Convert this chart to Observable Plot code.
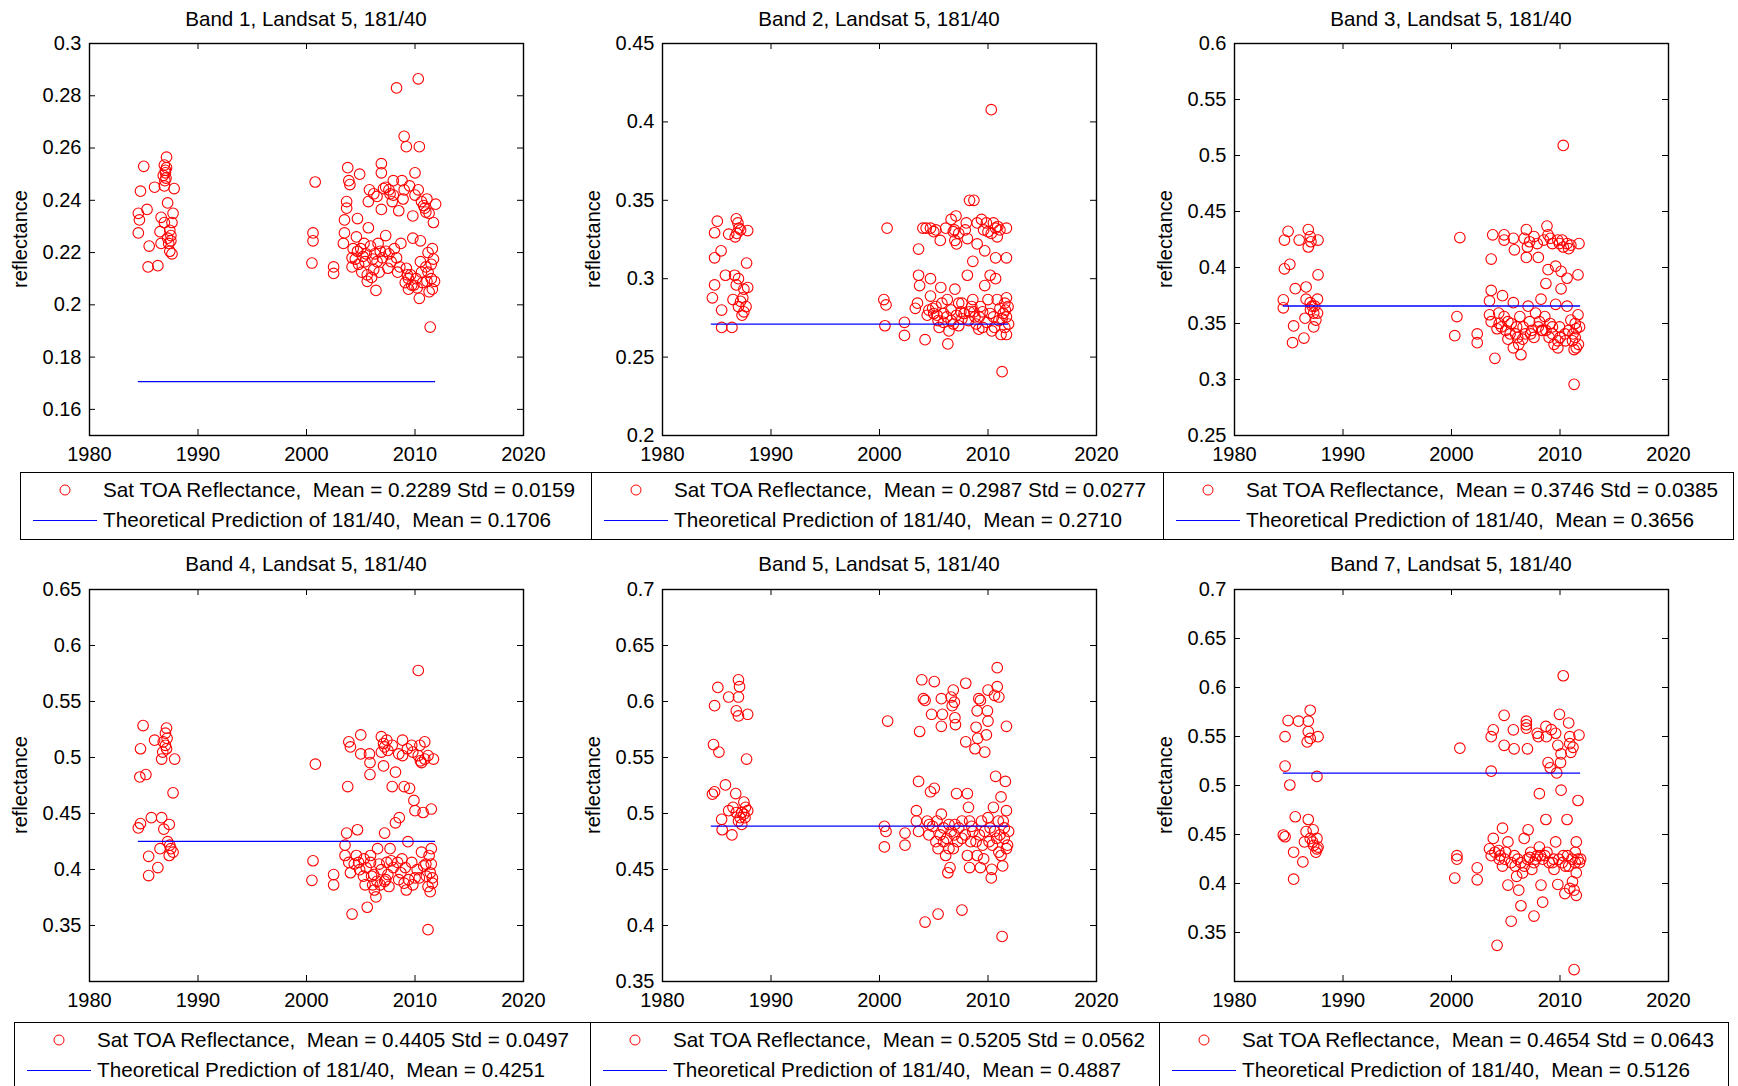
<!DOCTYPE html>
<html><head><meta charset="utf-8">
<script src="https://cdn.jsdelivr.net/npm/d3@7"></script>
<script src="https://cdn.jsdelivr.net/npm/@observablehq/plot@0.6"></script>
<style>
html,body{margin:0;padding:0;background:#fff;}
#root{position:relative;width:1738px;height:1086px;overflow:hidden;font-family:"Liberation Sans",Arial,sans-serif;color:#000;background:#fff;}
.title{position:absolute;font-size:20.6px;line-height:1;transform:translate(-50%,-50%);white-space:nowrap;}
.ylab{position:absolute;font-size:20px;line-height:1;transform:translate(-50%,-50%) rotate(-90deg);white-space:nowrap;}
.legend{position:absolute;border:1.5px solid #000;box-sizing:border-box;background:#fff;}
.legrow{position:absolute;left:82px;font-size:20.7px;line-height:1;white-space:pre;transform:translateY(-50%);}
.legmark{position:absolute;width:11px;height:11px;border:1.2px solid #ff0000;border-radius:50%;box-sizing:border-box;transform:translate(-50%,-50%);}
.legline{position:absolute;height:0;border-top:1.5px solid #0000ff;}
</style></head>
<body><div id="root"></div>
<script>
// ---------------- data ----------------
const titles = ["Band 1, Landsat 5, 181/40","Band 2, Landsat 5, 181/40","Band 3, Landsat 5, 181/40",
                "Band 4, Landsat 5, 181/40","Band 5, Landsat 5, 181/40","Band 7, Landsat 5, 181/40"];
const xTickLabels = [1980,1990,2000,2010,2020];
const yDomains = [[0.15,0.3],[0.2,0.45],[0.25,0.6],[0.3,0.65],[0.35,0.7],[0.3,0.7]];
const yTickLabels = [
  [0.16,0.18,0.2,0.22,0.24,0.26,0.28,0.3],
  [0.2,0.25,0.3,0.35,0.4,0.45],
  [0.25,0.3,0.35,0.4,0.45,0.5,0.55,0.6],
  [0.35,0.4,0.45,0.5,0.55,0.6,0.65],
  [0.35,0.4,0.45,0.5,0.55,0.6,0.65,0.7],
  [0.35,0.4,0.45,0.5,0.55,0.6,0.65,0.7]
];
const satMeans = ["0.2289","0.2987","0.3746","0.4405","0.5205","0.4654"];
const satStds  = ["0.0159","0.0277","0.0385","0.0497","0.0562","0.0643"];
const theoryMeans = [0.1706,0.2710,0.3656,0.4251,0.4887,0.5126];
const theorySpan = [1984.5, 2011.9];

const band1 = [
[1985.0,0.253],[1984.7,0.2435],[1984.5,0.235],[1984.6,0.2325],[1984.5,0.2275],[1985.3,0.2365],[1985.5,0.2225],[1985.4,0.2145],[1986.3,0.215],[1986.0,0.245],[1987.1,0.2565],[1986.9,0.2535],[1987.0,0.2515],[1986.8,0.2495],[1987.05,0.2485],[1986.95,0.2475],[1987.2,0.239],[1986.6,0.2335],[1986.6,0.2235],[1986.5,0.228],[1987.8,0.2445],[1987.7,0.235],[1987.6,0.2315],[1987.4,0.2285],[1987.5,0.2245],[1987.4,0.2205],[1987.3,0.2235],[1987.2,0.2255],[1986.9,0.2315],
[2000.8,0.247],[2000.6,0.2275],[2000.6,0.2245],[2000.5,0.216],[2002.5,0.2145],[2002.5,0.212],[2003.8,0.2525],[2003.9,0.2475],[2004.0,0.246],[2003.7,0.2395],[2003.7,0.237],[2003.5,0.2325],[2003.5,0.2275],[2003.4,0.2235],[2004.2,0.218],[2004.2,0.2145],[2004.7,0.233],[2004.9,0.25],[2004.6,0.226],[2004.7,0.2205],[2005.4,0.2165],[2005.6,0.2115],[2005.6,0.209],[2005.8,0.244],[2005.7,0.2395],[2005.7,0.2295],[2005.9,0.2225],[2006.1,0.2175],[2006.2,0.2135],[2006.4,0.2055],[2006.6,0.2235],[2006.9,0.254],[2006.9,0.2505],[2007.1,0.2445],[2006.9,0.2365],[2007.3,0.2265],[2007.3,0.2205],[2007.5,0.214],[2007.6,0.244],[2008.0,0.2475],[2008.0,0.242],[2008.3,0.283],[2008.5,0.236],[2008.3,0.218],[2008.7,0.2235],[2008.8,0.2475],[2009.0,0.2645],[2009.2,0.2605],[2009.0,0.244],[2009.2,0.214],[2009.4,0.21],[2009.4,0.206],[2009.8,0.234],[2010.0,0.2505],[2009.8,0.2255],[2010.3,0.2865],[2010.4,0.2605],[2010.3,0.244],[2010.5,0.2245],[2010.5,0.2165],[2010.4,0.2025],[2010.1,0.21],[2010.8,0.238],[2011.0,0.2355],[2011.1,0.2405],[2011.2,0.22],[2011.2,0.2125],[2011.4,0.1915],[2011.6,0.206],[2011.7,0.2315],[2011.9,0.2385],[2011.5,0.21],[2011.7,0.2175],
[2005.0,0.2215],[2005.2,0.2185],[2005.3,0.2235],[2006.0,0.2105],[2006.3,0.2195],[2006.7,0.2125],[2007.0,0.218],[2007.8,0.2165],[2008.1,0.2215],[2008.6,0.2145],[2009.1,0.2085],[2009.6,0.2115],[2009.9,0.2075],[2010.7,0.2085],[2011.0,0.2145],[2011.3,0.205],[2011.6,0.2215],[2007.3,0.245],[2007.9,0.2395],[2009.5,0.2455],[2010.0,0.242],[2010.9,0.237],[2011.3,0.235],[2006.2,0.2425],[2006.5,0.2415],[2004.3,0.2215],[2004.5,0.2175],
[1987.0,0.2505],[1986.9,0.2455],[1987.1,0.2525],[1987.5,0.2265],[1987.6,0.2195],[2004.8,0.2155],[2005.1,0.2125],[2005.5,0.2195],[2006.5,0.2165],[2006.8,0.2205],[2007.6,0.2195],[2008.4,0.2125],[2009.3,0.2115],[2009.7,0.2075],[2010.2,0.2065],[2010.6,0.2125],[2011.1,0.209],[2011.5,0.2155],[2011.8,0.209],[2007.7,0.2425],[2008.9,0.2405],[2010.6,0.2395]
];
const band2 = [
[1985.05,0.3367],[1984.8,0.3293],[1985.4,0.3178],[1984.8,0.3133],[1984.8,0.296],[1984.6,0.2878],[1985.45,0.28],[1985.45,0.2689],[1986.4,0.2689],[1985.8,0.3022],[1986.1,0.3284],[1986.8,0.3382],[1986.95,0.3356],[1987.05,0.3322],[1986.85,0.3289],[1987.2,0.3311],[1986.7,0.3267],[1987.85,0.3307],[1987.75,0.31],[1986.65,0.3022],[1987.0,0.30],[1987.5,0.2933],[1986.5,0.2867],[1987.2,0.2856],[1987.7,0.2822],[1987.33,0.2767],[1987.5,0.2789],[1987.85,0.2944],[1986.8,0.296],
[2000.7,0.3322],[2000.4,0.2867],[2000.6,0.2833],[2000.5,0.27],[2002.3,0.2722],[2002.3,0.2638],[2003.6,0.3189],[2003.6,0.3022],[2003.7,0.2956],[2003.5,0.2844],[2003.3,0.2811],[2004.0,0.3322],[2004.2,0.2611],[2004.7,0.3322],[2004.7,0.30],[2004.7,0.2889],[2004.55,0.28],[2004.4,0.2767],[2005.2,0.3311],[2005.6,0.3244],[2005.2,0.2822],[2005.4,0.2733],[2005.5,0.2689],[2005.65,0.2944],[2005.75,0.2844],[2006.1,0.3322],[2005.9,0.2778],[2006.25,0.2867],[2006.3,0.2584],[2006.4,0.2667],[2006.6,0.3378],[2006.8,0.33],[2006.95,0.3244],[2007.05,0.34],[2007.1,0.3222],[2006.6,0.28],[2006.95,0.2933],[2007.3,0.2844],[2007.1,0.2767],[2007.3,0.27],[2007.6,0.2844],[2007.8,0.2778],[2008.0,0.3356],[2008.1,0.3256],[2008.1,0.3022],[2008.3,0.35],[2008.7,0.35],[2008.6,0.3111],[2009.0,0.3222],[2008.5,0.2822],[2008.6,0.2867],[2008.8,0.2756],[2009.0,0.3356],[2009.15,0.2678],[2009.3,0.2822],[2009.5,0.2789],[2009.7,0.3178],[2009.7,0.2956],[2009.85,0.3356],[2010.3,0.4078],[2010.0,0.33],[2010.2,0.3022],[2010.0,0.2867],[2010.2,0.2778],[2010.35,0.2667],[2010.5,0.3356],[2010.7,0.3322],[2010.85,0.3267],[2010.7,0.30],[2010.7,0.3133],[2010.85,0.2867],[2011.0,0.2733],[2011.2,0.2644],[2011.3,0.2407],[2011.4,0.2778],[2011.55,0.2844],[2011.7,0.3322],[2011.7,0.3133],[2011.7,0.2878],[2011.85,0.2822],[2011.7,0.2756],[2011.55,0.2689],[2011.7,0.2644],
[2005.0,0.2778],[2005.9,0.2722],[2006.6,0.2733],[2007.6,0.2744],[2008.3,0.2789],[2008.9,0.2711],[2009.5,0.2689],[2010.5,0.2756],[2011.1,0.2811],[2011.9,0.2711],[2006.9,0.3311],[2007.3,0.3289],[2009.4,0.3378],[2010.3,0.3289],[2011.1,0.3311],[2004.3,0.3322],[2005.0,0.3300],
[2004.9,0.2811],[2005.3,0.2767],[2006.2,0.2756],[2006.8,0.2711],[2007.5,0.2789],[2008.2,0.2733],[2008.7,0.2789],[2009.2,0.2756],[2009.9,0.2722],[2010.6,0.2689],[2011.3,0.2744],[2011.6,0.2800],[2007.9,0.3311],[2009.6,0.3311],[2010.9,0.3333],[1987.0,0.2822],[1987.4,0.2878]
];
const band3 = [
[1984.94,0.4323],[1984.6,0.4245],[1985.96,0.4245],[1984.6,0.3988],[1985.1,0.4028],[1984.5,0.3711],[1984.5,0.364],[1985.6,0.3811],[1985.45,0.3478],[1985.35,0.3329],[1986.4,0.337],[1986.6,0.3826],[1986.8,0.4339],[1986.98,0.4276],[1986.8,0.4183],[1987.05,0.423],[1986.5,0.3547],[1986.6,0.3717],[1986.98,0.3686],[1987.15,0.3655],[1987.3,0.3593],[1987.5,0.3531],[1987.3,0.3469],[1987.65,0.3717],[1987.7,0.4245],[1987.7,0.3935],[1987.65,0.3593],
[2000.77,0.4267],[2000.5,0.3562],[2000.3,0.3391],[2002.37,0.3407],[2002.37,0.3329],[2003.8,0.4292],[2003.66,0.4075],[2003.66,0.3795],[2003.5,0.3702],[2003.5,0.3578],[2003.66,0.3516],[2004.0,0.3189],[2004.2,0.3453],[2004.35,0.3593],[2004.85,0.4292],[2004.85,0.4245],[2004.7,0.3748],[2004.85,0.3562],[2005.0,0.3438],[2005.2,0.336],[2005.7,0.4261],[2005.8,0.4158],[2005.7,0.3686],[2005.5,0.35],[2005.9,0.3407],[2005.7,0.3283],[2006.2,0.3314],[2006.4,0.3221],[2006.55,0.336],[2006.7,0.4261],[2006.9,0.4339],[2007.0,0.4183],[2006.9,0.409],[2007.06,0.3655],[2007.2,0.3516],[2007.4,0.3438],[2007.6,0.4276],[2007.9,0.4214],[2008.0,0.409],[2007.75,0.3593],[2008.1,0.3516],[2008.25,0.3717],[2008.4,0.3438],[2008.6,0.3562],[2008.7,0.3857],[2008.8,0.437],[2008.9,0.4292],[2009.1,0.4261],[2008.9,0.3981],[2009.1,0.35],[2009.3,0.3407],[2009.45,0.3314],[2009.6,0.3671],[2009.6,0.4012],[2009.8,0.4245],[2009.8,0.3283],[2009.95,0.4214],[2009.95,0.3469],[2010.1,0.381],[2010.1,0.3966],[2010.3,0.509],[2010.3,0.4183],[2010.45,0.3407],[2010.65,0.3655],[2010.65,0.3904],[2010.65,0.4214],[2010.8,0.4168],[2011.0,0.3531],[2011.15,0.3345],[2011.3,0.3267],[2011.3,0.2957],[2011.5,0.3453],[2011.66,0.3935],[2011.75,0.4214],[2011.66,0.3578],[2011.5,0.3283],[2011.4,0.3376],
[2005.2,0.3516],[2006.0,0.3469],[2006.8,0.3407],[2007.6,0.3376],[2008.3,0.3438],[2009.0,0.3376],[2009.8,0.3345],[2010.5,0.3345],[2011.2,0.3407],[2011.8,0.3469],[2007.2,0.4230],[2010.2,0.4245],[2011.0,0.4199],[2004.4,0.3500],[2006.3,0.3562],
[2004.6,0.3469],[2005.4,0.3407],[2006.1,0.3376],[2006.6,0.3469],[2007.3,0.3407],[2008.0,0.3469],[2008.7,0.3438],[2009.3,0.3469],[2010.0,0.3376],[2010.8,0.3438],[2011.4,0.3500],[2011.7,0.3314],[2008.5,0.4245],[2009.3,0.4214],[1987.0,0.3624],[1987.4,0.3655]
];
const band4 = [
[1984.94,0.5285],[1984.7,0.5078],[1984.64,0.4826],[1985.2,0.4848],[1984.5,0.4371],[1984.7,0.441],[1985.7,0.4463],[1985.45,0.4118],[1985.45,0.3946],[1986.3,0.4017],[1986.0,0.5155],[1986.65,0.4463],[1987.1,0.5263],[1987.0,0.5217],[1986.8,0.514],[1987.0,0.5109],[1986.75,0.5048],[1986.65,0.4986],[1987.15,0.5171],[1987.85,0.4986],[1987.7,0.4685],[1987.35,0.4402],[1986.85,0.436],[1987.2,0.4248],[1986.5,0.4186],[1987.5,0.4186],[1987.35,0.4125],[1987.7,0.4155],
[2000.82,0.494],[2000.6,0.4078],[2000.5,0.3903],[2002.5,0.3955],[2002.5,0.3863],[2003.9,0.514],[2004.05,0.5094],[2003.8,0.474],[2003.7,0.4325],[2003.55,0.4217],[2003.55,0.4125],[2003.9,0.4063],[2004.2,0.3602],[2004.05,0.3971],[2004.7,0.4355],[2005.0,0.5202],[2005.0,0.5032],[2004.6,0.4125],[2004.9,0.3998],[2005.25,0.394],[2005.4,0.3863],[2005.6,0.3663],[2005.8,0.5032],[2005.85,0.4955],[2005.85,0.4848],[2005.9,0.4125],[2005.9,0.4063],[2006.1,0.3863],[2006.25,0.3817],[2006.4,0.3755],[2006.55,0.4186],[2006.9,0.5186],[2007.1,0.5125],[2006.9,0.5048],[2007.2,0.5094],[2007.1,0.4925],[2007.2,0.4325],[2006.9,0.3998],[2007.2,0.3894],[2007.4,0.4063],[2007.6,0.3848],[2007.7,0.4186],[2007.9,0.5109],[2007.9,0.474],[2008.2,0.4869],[2008.2,0.4417],[2008.4,0.4063],[2008.55,0.4463],[2008.7,0.3971],[2008.85,0.5155],[2008.85,0.5017],[2009.0,0.474],[2009.0,0.3878],[2009.2,0.3817],[2009.35,0.4248],[2009.5,0.4725],[2009.7,0.5109],[2009.8,0.5048],[2009.7,0.4063],[2009.9,0.4617],[2010.0,0.4525],[2010.2,0.3998],[2010.3,0.5777],[2010.3,0.5017],[2010.45,0.5109],[2010.6,0.4955],[2010.6,0.4155],[2010.75,0.4509],[2010.9,0.514],[2010.9,0.4986],[2011.05,0.394],[2011.2,0.3463],[2011.2,0.3848],[2011.4,0.3802],[2011.5,0.4186],[2011.5,0.454],[2011.7,0.4986],[2011.5,0.4048],[2011.4,0.3971],
[2005.3,0.4094],[2006.0,0.3940],[2006.5,0.3894],[2006.8,0.3863],[2007.5,0.3955],[2008.0,0.4017],[2008.8,0.4094],[2009.4,0.3909],[2010.0,0.3925],[2010.8,0.4032],[2011.3,0.4125],[2011.6,0.3878],[2007.5,0.5063],[2009.3,0.5078],[2010.5,0.4970],[2004.4,0.4048],
[2004.8,0.4063],[2005.5,0.4017],[2006.2,0.3955],[2006.7,0.4048],[2007.3,0.3909],[2007.8,0.4078],[2008.5,0.3909],[2009.1,0.4017],[2009.8,0.3863],[2010.4,0.3925],[2011.0,0.4048],[2011.6,0.3925],[2007.4,0.5155],[2008.5,0.5032],[2011.2,0.5017],[1987.1,0.5078],[1987.4,0.4217]
];
const band5 = [
[1985.1,0.6126],[1984.8,0.5963],[1986.1,0.604],[1984.7,0.5615],[1985.2,0.5548],[1984.6,0.5172],[1984.8,0.5194],[1985.8,0.5255],[1985.45,0.4948],[1985.5,0.4855],[1986.4,0.4809],[1986.75,0.5178],[1987.0,0.6194],[1987.1,0.6132],[1987.0,0.604],[1986.8,0.5917],[1987.0,0.5871],[1987.85,0.5886],[1987.75,0.5486],[1986.5,0.5055],[1986.8,0.5009],[1987.15,0.4963],[1987.5,0.5102],[1987.65,0.5055],[1987.3,0.4902],[1987.5,0.4994],[1987.85,0.5025],[1987.0,0.4932],[1986.1,0.5025],
[2000.75,0.5825],[2000.45,0.4886],[2000.6,0.484],[2000.45,0.4702],[2002.35,0.4825],[2002.35,0.4717],[2003.7,0.5732],[2003.9,0.6194],[2004.05,0.6025],[2004.2,0.601],[2003.6,0.5286],[2003.4,0.5025],[2003.4,0.4932],[2003.6,0.484],[2004.2,0.4031],[2004.7,0.5194],[2004.4,0.4932],[2004.55,0.4809],[2005.05,0.6178],[2004.8,0.5886],[2005.05,0.5225],[2005.2,0.4748],[2005.4,0.4686],[2005.4,0.4102],[2005.7,0.5778],[2005.8,0.5886],[2005.7,0.6025],[2005.7,0.4994],[2005.9,0.4871],[2006.1,0.4625],[2006.3,0.4471],[2006.5,0.4517],[2006.6,0.604],[2006.8,0.6102],[2006.9,0.5994],[2006.95,0.5855],[2007.0,0.5794],[2007.1,0.5178],[2006.95,0.4902],[2007.2,0.4748],[2006.8,0.4686],[2007.6,0.4138],[2007.6,0.4932],[2007.95,0.6163],[2007.95,0.564],[2008.1,0.5178],[2008.2,0.5055],[2008.1,0.4625],[2008.3,0.4517],[2008.4,0.4748],[2008.6,0.484],[2008.8,0.5578],[2008.9,0.577],[2009.0,0.5917],[2009.15,0.6025],[2009.05,0.5671],[2009.0,0.4625],[2009.3,0.4517],[2009.5,0.4717],[2009.7,0.5548],[2009.85,0.5702],[2009.95,0.5917],[2010.0,0.6102],[2010.0,0.5825],[2010.0,0.4963],[2010.2,0.4871],[2010.3,0.4425],[2010.35,0.4502],[2010.4,0.4717],[2010.5,0.5055],[2010.6,0.6055],[2010.7,0.5332],[2010.85,0.6302],[2010.85,0.6132],[2011.0,0.604],[2010.95,0.4932],[2011.2,0.5148],[2011.3,0.3902],[2011.2,0.4625],[2011.35,0.4532],[2011.5,0.4778],[2011.6,0.5286],[2011.7,0.5778],[2011.7,0.5025],[2011.7,0.4686],[2011.5,0.4871],
[2004.9,0.4886],[2005.6,0.4809],[2006.2,0.4778],[2006.6,0.4840],[2007.3,0.4871],[2007.9,0.4809],[2008.5,0.4886],[2009.2,0.4809],[2009.7,0.4840],[2010.6,0.4840],[2011.1,0.4809],[2011.9,0.4840],[2006.4,0.4686],[2009.6,0.4594],[2011.0,0.4655],
[2004.6,0.4902],[2005.3,0.4932],[2005.9,0.4748],[2006.4,0.4902],[2006.9,0.4809],[2007.6,0.4778],[2008.3,0.4932],[2008.9,0.4748],[2009.4,0.4932],[2010.1,0.4748],[2010.8,0.4778],[2011.4,0.4932],[2011.8,0.4717],[2009.3,0.6010],[2006.7,0.5963],[1987.3,0.5009],[1987.6,0.4963]
];
const band7 = [
[1984.94,0.5663],[1984.66,0.5498],[1985.9,0.5656],[1984.66,0.5198],[1985.1,0.5005],[1984.5,0.4495],[1984.66,0.4477],[1985.6,0.4681],[1985.45,0.4319],[1985.45,0.4044],[1986.3,0.422],[1986.8,0.4653],[1986.98,0.5768],[1986.8,0.5656],[1986.8,0.555],[1986.98,0.548],[1986.7,0.5445],[1987.7,0.5498],[1987.6,0.5093],[1987.25,0.4548],[1986.6,0.453],[1987.3,0.4389],[1987.7,0.4372],[1987.5,0.4319],[1986.45,0.4424],[1986.98,0.446],[1987.6,0.446],
[2000.77,0.5381],[2000.5,0.4284],[2000.5,0.4248],[2000.3,0.4055],[2002.37,0.416],[2002.37,0.4037],[2003.66,0.5498],[2003.85,0.5568],[2003.66,0.5146],[2003.5,0.4354],[2003.66,0.4284],[2003.85,0.446],[2004.2,0.3369],[2004.35,0.4336],[2004.5,0.4284],[2004.85,0.5716],[2004.85,0.541],[2004.7,0.4565],[2004.7,0.4178],[2005.2,0.3984],[2005.2,0.4424],[2005.5,0.3615],[2005.7,0.5568],[2005.77,0.5374],[2005.87,0.4178],[2006.0,0.4073],[2006.2,0.3932],[2006.4,0.3773],[2006.55,0.4108],[2006.7,0.446],[2006.9,0.5656],[2006.9,0.5585],[2007.0,0.5374],[2007.06,0.4548],[2007.2,0.4266],[2007.4,0.4143],[2007.6,0.3668],[2007.75,0.4248],[2007.9,0.5533],[2008.1,0.4917],[2008.1,0.4372],[2008.25,0.3984],[2008.4,0.3809],[2008.6,0.4284],[2008.7,0.5603],[2008.75,0.5498],[2008.7,0.4653],[2008.9,0.5234],[2009.1,0.5181],[2009.3,0.4213],[2009.45,0.4143],[2009.6,0.5533],[2009.6,0.4424],[2009.7,0.5128],[2009.8,0.541],[2009.95,0.5726],[2010.05,0.5234],[2010.1,0.5322],[2010.1,0.4952],[2010.3,0.612],[2010.3,0.4284],[2010.45,0.3897],[2010.65,0.4653],[2010.8,0.5638],[2010.9,0.5427],[2011.0,0.5339],[2010.8,0.4178],[2011.15,0.402],[2011.3,0.3122],[2011.3,0.3932],[2011.5,0.3879],[2011.5,0.4424],[2011.66,0.4847],[2011.75,0.5515],[2011.66,0.4248],[2011.5,0.4108],[2011.4,0.4319],
[2004.0,0.4319],[2004.9,0.4248],[2005.5,0.4213],[2006.1,0.4248],[2006.7,0.4178],[2007.3,0.4319],[2007.9,0.4284],[2008.4,0.4248],[2009.0,0.4213],[2009.9,0.4248],[2010.5,0.4178],[2011.1,0.4248],[2011.8,0.4213],[2006.9,0.5620],[2009.2,0.5570],[2011.2,0.5390],[2009.8,0.3990],[2010.9,0.3950],
[2004.4,0.4248],[2005.0,0.4319],[2005.8,0.4284],[2006.4,0.4213],[2007.0,0.4248],[2007.6,0.4213],[2008.2,0.4284],[2008.8,0.4319],[2009.4,0.4248],[2010.2,0.4213],[2010.7,0.4284],[2011.4,0.4213],[2011.9,0.4248],[2008.0,0.5498],[2010.9,0.5498],[1987.2,0.4424],[1987.6,0.4354]
];
const bands = [band1, band2, band3, band4, band5, band7];

// ---------------- layout ----------------
const FONT = '"Liberation Sans", Arial, sans-serif';
const frameLefts = [89, 662, 1234];
const frameTops = [43, 589];
const frameW = 434, frameH = 392;
const titleY = [19, 564];
const legendTops = [472, 1022];
const legendLefts = [[20, 591, 1163], [14, 590, 1159]];
const legendRights = [[592, 1164, 1734], [591, 1160, 1729]];

const root = document.getElementById("root");
const fmtY = d => String(+(+d).toFixed(4));

for (let i = 0; i < 6; i++) {
  const col = i % 3, row = Math.floor(i / 3);
  const fl = frameLefts[col], ft = frameTops[row];
  const mL = 80, mR = 40, mT = 10, mB = 45;
  const W = frameW + mL + mR, H = frameH + mT + mB;
  const svg = Plot.plot({
    width: W, height: H,
    marginLeft: mL, marginRight: mR, marginTop: mT, marginBottom: mB,
    style: {fontSize: "20px", fontFamily: FONT, background: "transparent", overflow: "visible", color: "#000"},
    x: {domain: [1980, 2020], label: null},
    y: {domain: yDomains[i], label: null},
    marks: [
      Plot.dot(bands[i], {x: d => d[0], y: d => d[1], r: 5.3, stroke: "#ff0000", strokeWidth: 1.1, fill: "none"}),
      Plot.ruleY([theoryMeans[i]], {x1: theorySpan[0], x2: theorySpan[1], stroke: "#0000ff", strokeWidth: 1.4}),
      Plot.tickY(yTickLabels[i], {y: d => d, insetRight: frameW - 6, stroke: "#000"}),
      Plot.tickY(yTickLabels[i], {y: d => d, insetLeft: frameW - 6, stroke: "#000"}),
      Plot.tickX(xTickLabels, {x: d => d, insetBottom: frameH - 6, stroke: "#000"}),
      Plot.tickX(xTickLabels, {x: d => d, insetTop: frameH - 6, stroke: "#000"}),
      Plot.axisX(xTickLabels, {tickSize: 0, tickPadding: 11, tickFormat: d => String(d), label: null}),
      Plot.axisY(yTickLabels[i], {tickSize: 0, tickPadding: 8, tickFormat: fmtY, label: null}),
      Plot.frame({stroke: "#000", strokeWidth: 1.4})
    ]
  });
  svg.style.position = "absolute";
  svg.style.left = (fl - mL) + "px";
  svg.style.top = (ft - mT) + "px";
  root.appendChild(svg);

  const t = document.createElement("div");
  t.className = "title";
  t.textContent = titles[i];
  t.style.left = (fl + frameW / 2) + "px";
  t.style.top = titleY[row] + "px";
  root.appendChild(t);

  const yl = document.createElement("div");
  yl.className = "ylab";
  yl.textContent = "reflectance";
  yl.style.left = (fl - 69) + "px";
  yl.style.top = (ft + frameH / 2) + "px";
  root.appendChild(yl);

  const lg = document.createElement("div");
  lg.className = "legend";
  lg.style.left = legendLefts[row][col] + "px";
  lg.style.width = (legendRights[row][col] - legendLefts[row][col]) + "px";
  lg.style.top = legendTops[row] + "px";
  lg.style.height = "68px";
  const m = document.createElement("div"); m.className = "legmark"; m.style.left = "44px"; m.style.top = "17px";
  const r1 = document.createElement("div"); r1.className = "legrow"; r1.style.top = "17px";
  r1.textContent = "Sat TOA Reflectance,  Mean = " + satMeans[i] + " Std = " + satStds[i];
  const ln = document.createElement("div"); ln.className = "legline"; ln.style.left = "12px"; ln.style.width = "64px"; ln.style.top = "47px";
  const r2 = document.createElement("div"); r2.className = "legrow"; r2.style.top = "47px";
  r2.textContent = "Theoretical Prediction of 181/40,  Mean = " + theoryMeans[i].toFixed(4);
  lg.append(m, r1, ln, r2);
  root.appendChild(lg);
}
</script>
</body></html>
